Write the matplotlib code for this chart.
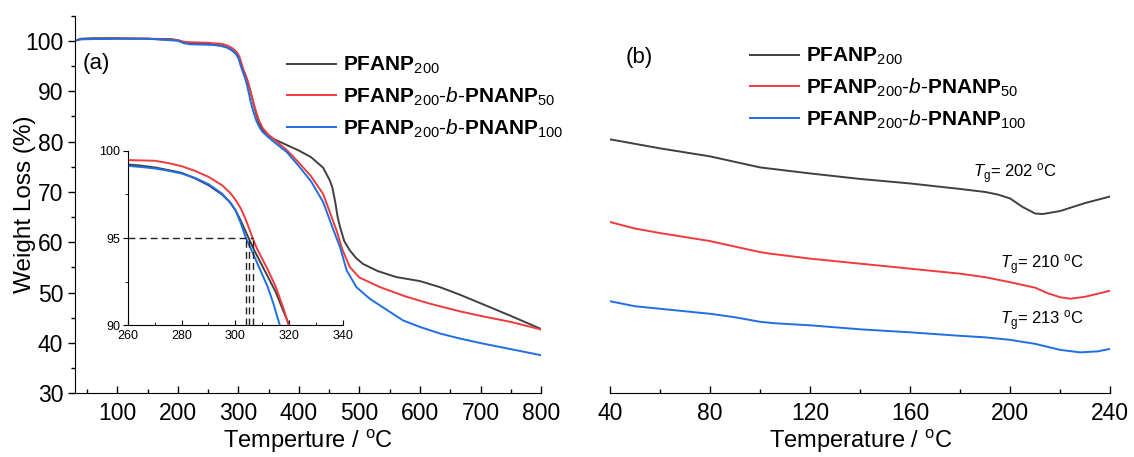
#!/usr/bin/env python3
import numpy as np
import matplotlib.pyplot as plt
from matplotlib.ticker import MultipleLocator

plt.rcParams['font.family'] = 'Liberation Sans'
plt.rcParams['mathtext.fontset'] = 'custom'
plt.rcParams['mathtext.rm'] = 'Liberation Sans'
plt.rcParams['mathtext.bf'] = 'Liberation Sans:bold'
plt.rcParams['mathtext.it'] = 'Liberation Sans:italic'

COLORS = ['#404040', '#f03a3c', '#1f6fe3']
LABELS = [r'$\mathbf{PFANP}_{200}$',
          r'$\mathbf{PFANP}_{200}$-$\mathit{b}$-$\mathbf{PNANP}_{50}$',
          r'$\mathbf{PFANP}_{200}$-$\mathit{b}$-$\mathbf{PNANP}_{100}$']

# TGA: temperature (C) / weight (%)
tga_t_200 = [30, 40, 60, 100, 150, 190, 200, 210, 220, 250, 260, 265, 270, 275, 280, 285,
             290, 295, 298, 300, 302, 304.9, 307, 310, 312, 315, 318, 320, 325, 330, 335,
             340, 350, 360, 380, 400, 420, 440, 451, 455, 460, 464, 468, 475, 484, 495, 506,
             530, 561, 600, 633, 666, 700, 750, 800]
tga_w_200 = [100.0, 100.4, 100.5, 100.5, 100.4, 100.3, 100.1, 99.7, 99.5, 99.4, 99.22, 99.15,
             99.05, 98.9, 98.74, 98.42, 98.03, 97.5, 97.05, 96.6, 96.0, 95.0, 94.3, 93.4,
             92.8, 91.9, 90.75, 90.0, 87.5, 85.2, 83.4, 82.3, 81.2, 80.4, 79.3, 78.2, 76.9,
             74.8, 72.3, 71.0, 68.0, 65.0, 63.0, 60.2, 58.4, 56.8, 55.7, 54.3, 53.1, 52.3,
             51.1, 49.6, 47.9, 45.4, 42.8]

tga_t_50 = [30, 40, 100, 150, 200, 210, 220, 250, 260, 270, 275, 280, 285, 290, 295, 298,
            300, 302, 304, 306.4, 308, 310, 312, 315, 318, 320, 325, 330, 335, 340, 350, 360,
            380, 400, 420, 440, 451, 462, 472, 484, 500, 534, 575, 617, 666, 700, 750, 800]
tga_w_50 = [100.0, 100.3, 100.4, 100.4, 100.1, 99.8, 99.7, 99.6, 99.47, 99.43, 99.3, 99.12,
            98.85, 98.51, 98.03, 97.6, 97.2, 96.7, 96.0, 95.0, 94.4, 93.8, 93.2, 92.2, 90.9,
            89.9, 87.6, 85.6, 83.9, 82.7, 81.3, 80.3, 78.3, 75.8, 73.1, 69.6, 66.0, 62.4,
            58.5, 55.1, 53.0, 51.1, 49.3, 47.8, 46.3, 45.4, 44.2, 42.7]

tga_t_100 = [30, 40, 100, 150, 200, 210, 220, 250, 260, 265, 270, 275, 280, 285, 290, 295,
             298, 300, 302, 303.9, 306, 308, 310, 312, 314, 316.5, 318, 320, 325, 330, 335,
             340, 350, 360, 380, 400, 420, 440, 451, 460, 468, 479, 495, 517, 545, 572, 600,
             633, 666, 700, 750, 800]
tga_w_100 = [100.0, 100.3, 100.4, 100.4, 100.0, 99.5, 99.3, 99.2, 99.14, 99.07, 98.99, 98.86,
             98.7, 98.45, 98.09, 97.55, 97.05, 96.6, 95.85, 95.0, 94.3, 93.6, 92.9, 92.2,
             91.3, 90.0, 89.2, 88.0, 85.8, 84.0, 82.8, 81.9, 80.8, 79.8, 77.9, 75.1, 72.1,
             68.0, 64.4, 61.5, 59.0, 54.4, 51.1, 48.8, 46.6, 44.5, 43.2, 41.9, 40.9, 40.0,
             38.8, 37.6]

t5 = [304.9, 306.4, 303.9]  # 5% weight loss temperatures

# DSC: temperature (C) / heat flow (a.u.)
dsc_t_200 = [40, 60, 80, 90, 100, 110, 120, 140, 160, 180, 190, 195, 200, 205, 210, 213, 220, 230, 240]
dsc_h_200 = [5.07, 4.89, 4.73, 4.62, 4.51, 4.45, 4.39, 4.28, 4.19, 4.08, 4.02, 3.97, 3.89,
             3.72, 3.59, 3.58, 3.64, 3.80, 3.93]
dsc_t_50 = [40, 50, 60, 80, 90, 100, 104, 120, 140, 160, 180, 190, 200, 210, 215, 220, 224, 230, 240]
dsc_h_50 = [3.42, 3.29, 3.20, 3.04, 2.93, 2.82, 2.79, 2.69, 2.59, 2.49, 2.39, 2.32, 2.22,
            2.11, 2.00, 1.92, 1.89, 1.93, 2.05]
dsc_t_100 = [40, 50, 60, 80, 90, 100, 106, 120, 140, 160, 180, 190, 200, 210, 220, 228, 235, 240]
dsc_h_100 = [1.84, 1.74, 1.69, 1.59, 1.52, 1.43, 1.40, 1.36, 1.28, 1.22, 1.15, 1.12, 1.07,
             0.99, 0.87, 0.82, 0.84, 0.89]

tg = [202, 210, 213]
tg_pos = [(185.2, 4.38), (196, 2.56), (196, 1.46)]

tga = [(tga_t_200, tga_w_200), (tga_t_50, tga_w_50), (tga_t_100, tga_w_100)]
dsc = [(dsc_t_200, dsc_h_200), (dsc_t_50, dsc_h_50), (dsc_t_100, dsc_h_100)]

fig = plt.figure(figsize=(11.34, 4.57), dpi=100)
ax1 = fig.add_axes([0.0661, 0.139, 0.411, 0.827])
ax2 = fig.add_axes([0.538, 0.139, 0.441, 0.827])
ins = fig.add_axes([0.1126, 0.288, 0.190, 0.382])

# (a) TGA
for (t, w), c, lab in zip(tga, COLORS, LABELS):
    ax1.plot(t, w, color=c, lw=1.4, label=lab)
ax1.set_xlim(30, 800)
ax1.set_ylim(30, 105)
ax1.xaxis.set_minor_locator(MultipleLocator(50))
ax1.yaxis.set_major_locator(MultipleLocator(10))
ax1.yaxis.set_minor_locator(MultipleLocator(5))
ax1.set_xticks([100, 200, 300, 400, 500, 600, 700, 800])
ax1.tick_params(axis='x', which='both', direction='in', labelsize=16.5, pad=6)
ax1.tick_params(axis='y', which='both', direction='out', labelsize=16.5)
ax1.tick_params(which='major', length=5, width=1)
ax1.tick_params(which='minor', length=3, width=1)
for s in ['top', 'right']:
    ax1.spines[s].set_visible(False)
ax1.set_xlabel(r'Temperture / $^{\mathregular{o}}$C', fontsize=17)
ax1.set_ylabel('Weight Loss (%)', fontsize=17.5)
ax1.xaxis.set_label_coords(0.5, -0.091)
ax1.yaxis.set_label_coords(-0.083, 0.5)
ax1.text(0.016, 0.874, '(a)', transform=ax1.transAxes, fontsize=16, va='center')
ax1.legend(loc='upper left', bbox_to_anchor=(287 / 1134, 1 - 55 / 457),
           bbox_transform=fig.transFigure, frameon=False, fontsize=15,
           handlelength=2.35, handletextpad=0.33, labelspacing=0.45, borderpad=0,
           borderaxespad=0)

# inset: zoom on 5% weight loss
for (t, w), c in zip(tga, COLORS):
    ins.plot(t, w, color=c, lw=1.4)
ins.plot([260, max(t5)], [95, 95], color='#222222', lw=1, ls=(0, (5, 3)))
for x in t5:
    ins.plot([x, x], [90, 95], color='#222222', lw=1, ls=(0, (5, 3)))
ins.set_xlim(260, 340)
ins.set_ylim(90, 100)
ins.xaxis.set_major_locator(MultipleLocator(20))
ins.xaxis.set_minor_locator(MultipleLocator(10))
ins.yaxis.set_major_locator(MultipleLocator(5))
ins.yaxis.set_minor_locator(MultipleLocator(2.5))
ins.tick_params(axis='x', which='both', direction='in', labelsize=9, pad=3)
ins.tick_params(axis='y', which='both', direction='out', labelsize=9, pad=2)
ins.tick_params(which='major', length=3.5)
ins.tick_params(which='minor', length=2)
for s in ['top', 'right']:
    ins.spines[s].set_visible(False)
ins.patch.set_alpha(0)

# (b) DSC
for (t, h), c, lab in zip(dsc, COLORS, LABELS):
    ax2.plot(t, h, color=c, lw=1.4, label=lab)
ax2.set_xlim(40, 240)
ax2.set_ylim(0, 7.54)
ax2.xaxis.set_major_locator(MultipleLocator(40))
ax2.xaxis.set_minor_locator(MultipleLocator(20))
ax2.tick_params(axis='x', which='both', direction='in', labelsize=16.5, pad=6)
ax2.tick_params(which='major', length=5, width=1)
ax2.tick_params(which='minor', length=3, width=1)
ax2.set_yticks([])
for s in ['top', 'right', 'left']:
    ax2.spines[s].set_visible(False)
ax2.set_xlabel(r'Temperature / $^{\mathregular{o}}$C', fontsize=17)
ax2.xaxis.set_label_coords(0.5, -0.091)
ax2.text(0.032, 0.888, '(b)', transform=ax2.transAxes, fontsize=16, va='center')
for v, (x, y) in zip(tg, tg_pos):
    ax2.text(x, y, r'$\mathit{T}_{\mathregular{g}}$= %d $^{\mathregular{o}}$C' % v,
             fontsize=12, va='center', ha='left')
ax2.legend(loc='upper left', bbox_to_anchor=(750 / 1134, 1 - 46 / 457),
           bbox_transform=fig.transFigure, frameon=False, fontsize=15,
           handlelength=2.35, handletextpad=0.33, labelspacing=0.45, borderpad=0,
           borderaxespad=0)

fig.savefig('out.png', dpi=100)
